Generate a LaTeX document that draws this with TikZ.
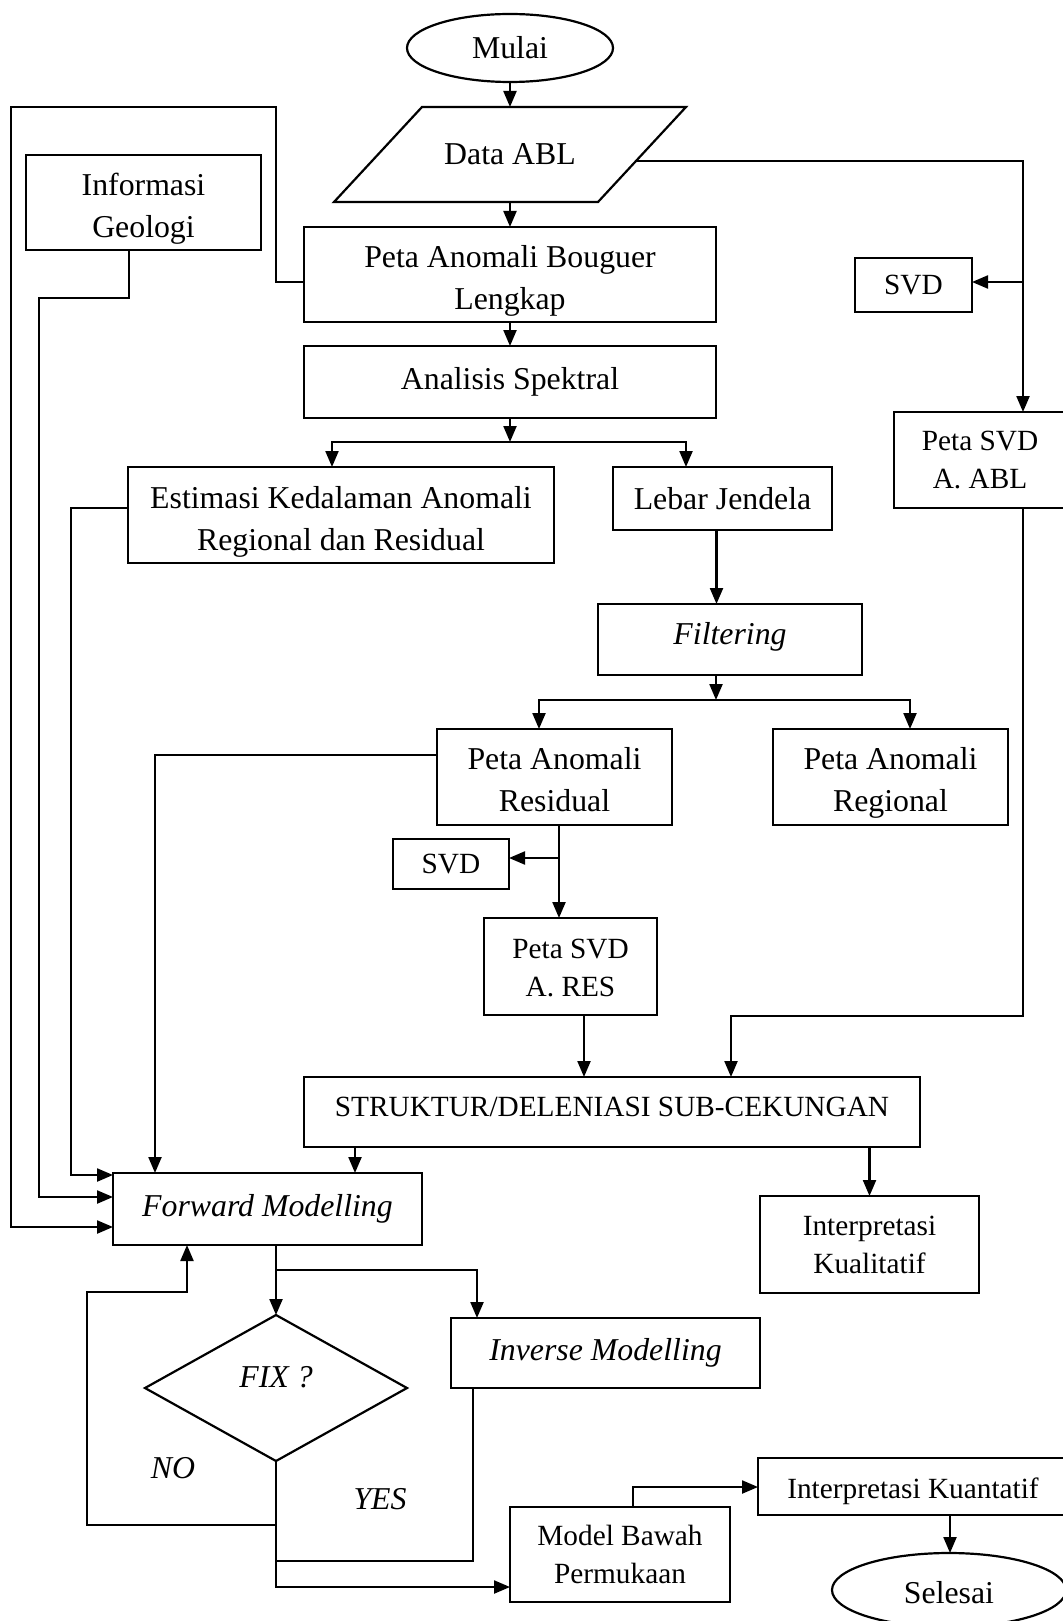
\documentclass[tikz,border=0pt]{standalone}
\usepackage{fontspec}
\setmainfont{Liberation Serif}
\usetikzlibrary{arrows.meta,shapes.geometric,calc}
\newcommand{\fmain}{\fontsize{31.8}{42}\selectfont}
\newcommand{\fsmall}{\fontsize{29.3}{38}\selectfont}
\newcommand{\dn}[1]{\rule{0pt}{#1}}
\begin{document}
\begin{tikzpicture}[x=1pt,y=-1pt,line width=2.2pt,line join=miter,
  box/.style={draw,rectangle,inner sep=0pt,outer sep=0pt,align=center,font=\fmain},
  sbox/.style={box,font=\fsmall},
  oval/.style={draw,ellipse,inner sep=0pt,outer sep=0pt,font=\fmain},
  arr/.style={-{Triangle[length=16pt,width=13pt]}}]
\useasboundingbox (0,0) rectangle (1062,1621);
\fill[white] (0,0) rectangle (1062,1621);

% nodes
\node[oval,minimum width=206pt,minimum height=68pt] (mulai) at (510,48) {Mulai};
\coordinate (dtl) at (422,107);
\coordinate (dtr) at (686,107);
\coordinate (dbr) at (598,202);
\coordinate (dbl) at (334,202);
\draw (dtl) -- (dtr) -- (dbr) -- (dbl) -- cycle;
\node[font=\fmain] (data) at (510,154) {Data ABL};
\coordinate (dtop) at (510,107);
\coordinate (dbot) at (510,202);
\coordinate (dright) at (636,161);

\node[box,minimum width=235pt,minimum height=95pt] (info) at (143.5,202.5) {\dn{35pt}Informasi\\Geologi};
\node[box,minimum width=412pt,minimum height=95pt] (peta) at (510,274.5) {\dn{34pt}Peta Anomali Bouguer\\Lengkap};
\node[sbox,minimum width=117pt,minimum height=54pt] (svd1) at (913.5,285) {SVD};
\node[box,minimum width=412pt,minimum height=72pt] (analisis) at (510,382) {Analisis Spektral};
\node[sbox,minimum width=172pt,minimum height=96pt] (psvdabl) at (980,460) {Peta SVD\\A. ABL};
\node[box,minimum width=426pt,minimum height=96pt] (estimasi) at (341,515) {\dn{35pt}Estimasi Kedalaman Anomali\\Regional dan Residual};
\node[box,minimum width=219pt,minimum height=63pt] (lebar) at (722.5,498.5) {Lebar Jendela};
\node[box,minimum width=264pt,minimum height=71pt,font=\fmain\itshape,text depth=13pt] (filter) at (730,639.5) {Filtering};
\node[box,minimum width=235pt,minimum height=96pt] (resid) at (554.5,777) {\dn{28pt}Peta Anomali\\Residual};
\node[box,minimum width=235pt,minimum height=96pt] (region) at (890.5,777) {\dn{34pt}Peta Anomali\\Regional};
\node[sbox,minimum width=116pt,minimum height=50pt] (svd2) at (451,864) {SVD};
\node[sbox,minimum width=173pt,minimum height=97pt] (psvdres) at (570.5,966.5) {\dn{22.5pt}Peta SVD\\A. RES};
\node[sbox,minimum width=616pt,minimum height=70pt,text depth=10pt] (struk) at (612,1112) {STRUKTUR/DELENIASI SUB-CEKUNGAN};
\node[sbox,minimum width=219pt,minimum height=97pt] (kual) at (869.5,1244.5) {Interpretasi\\Kualitatif};
\node[box,minimum width=309pt,minimum height=72pt,font=\fmain\itshape] (fwd) at (267.5,1209) {Forward Modelling};
\node[draw,diamond,inner sep=0pt,outer sep=0pt,minimum width=262pt,minimum height=146pt,font=\fmain\itshape,text depth=23pt] (fix) at (276,1388) {FIX ?};
\node[box,minimum width=309pt,minimum height=70pt,font=\fmain\itshape] (inv) at (605.5,1353) {Inverse Modelling};
\node[sbox,minimum width=220pt,minimum height=95pt] (model) at (620,1554.5) {Model Bawah\\Permukaan};
\node[sbox,minimum width=310pt,minimum height=57pt,text height=24pt,text depth=0pt] (kuan) at (913,1486.5) {Interpretasi Kuantatif};
\node[oval,minimum width=234pt,minimum height=74pt,text height=27pt,text depth=0pt] (selesai) at (949,1590) {Selesai};
\node[font=\fmain\itshape] (no) at (173,1468) {NO};
\node[font=\fmain\itshape] (yes) at (380,1499) {YES};

% connectors
\draw[arr] (mulai.south) -- (dtop);
\draw[arr] (dbot) -- (peta.north);
\draw[arr] (peta.south) -- (analisis.north);
\coordinate (j1) at (510,442);
\draw[arr] (analisis.south) -- (j1);
\draw[arr] (j1) -| ($(estimasi.north)+(-9,0)$);
\draw[arr] (j1) -| ($(lebar.north)+(-36.5,0)$);
\coordinate (lf) at ($(lebar.south)+(-6,0)$);
\draw[arr] (lf) -- (lf |- filter.north);
\coordinate (j2) at (716,700);
\draw[arr] (j2 |- filter.south) -- (j2);
\draw[arr] (j2) -| ($(resid.north)+(-15.5,0)$);
\draw[arr] (j2) -| ($(region.north)+(19.5,0)$);

\coordinate (r1) at (155,755);
\draw[arr] (r1 -| resid.west) -- (r1) -- (r1 |- fwd.north);
\coordinate (r2) at (559,858);
\draw[arr] (r2 |- resid.south) -- (r2 |- psvdres.north);
\draw[arr] (r2) -- (r2 -| svd2.east);

\coordinate (c1) at (1023,161);
\draw[arr] (dright) -- (c1) -- (c1 |- psvdabl.north);
\coordinate (c2) at (1023,282);
\draw[arr] (c2) -- (c2 -| svd1.east);
\coordinate (c3) at (1023,1016);
\coordinate (c4) at (731,1016);
\draw[arr] (c3 |- psvdabl.south) -- (c3) -- (c4) -- (c4 |- struk.north);
\coordinate (c5) at (584,1015);
\draw[arr] (c5 |- psvdres.south) -- (c5 |- struk.north);
\coordinate (c6) at (355,1150);
\draw[arr] (c6 |- struk.south) -- (c6 |- fwd.north);
\draw[arr] (kual.north |- struk.south) -- (kual.north);

\coordinate (l1) at (276,282);
\coordinate (l2) at (276,107);
\coordinate (l3) at (11,107);
\coordinate (l4) at (11,1227);
\draw[arr] (l1 -| peta.west) -- (l1) -- (l2) -- (l3) -- (l4) -- (l4 -| fwd.west);
\coordinate (g1) at (129,298);
\coordinate (g2) at (39,298);
\coordinate (g3) at (39,1197);
\draw[arr] (g1 |- info.south) -- (g1) -- (g2) -- (g3) -- (g3 -| fwd.west);
\coordinate (k1) at (71,508);
\coordinate (k2) at (71,1175);
\draw[arr] (k1 -| estimasi.west) -- (k1) -- (k2) -- (k2 -| fwd.west);

\coordinate (f1) at (276,1270);
\draw[arr] (f1 |- fwd.south) -- (fix.north);
\draw[arr] (f1) -| ($(inv.north)+(-128.5,0)$);
\coordinate (m1) at (276,1587);
\draw[arr] (fix.south) -- (m1) -- (m1 -| model.west);
\coordinate (n1) at (276,1525);
\coordinate (n2) at (87,1525);
\coordinate (n3) at (87,1292);
\coordinate (n4) at (187,1292);
\draw[arr] (n1) -- (n2) -- (n3) -- (n4) -- (n4 |- fwd.south);
\coordinate (i1) at (473,1561);
\draw (i1 |- inv.south) -- (i1) -- (i1 -| fix.south);
\coordinate (q1) at (633,1487);
\draw[arr] (q1 |- model.north) -- (q1) -- (q1 -| kuan.west);
\coordinate (q2) at (950,1515);
\draw[arr] (q2 |- kuan.south) -- (q2 |- selesai.north);
\end{tikzpicture}
\end{document}
